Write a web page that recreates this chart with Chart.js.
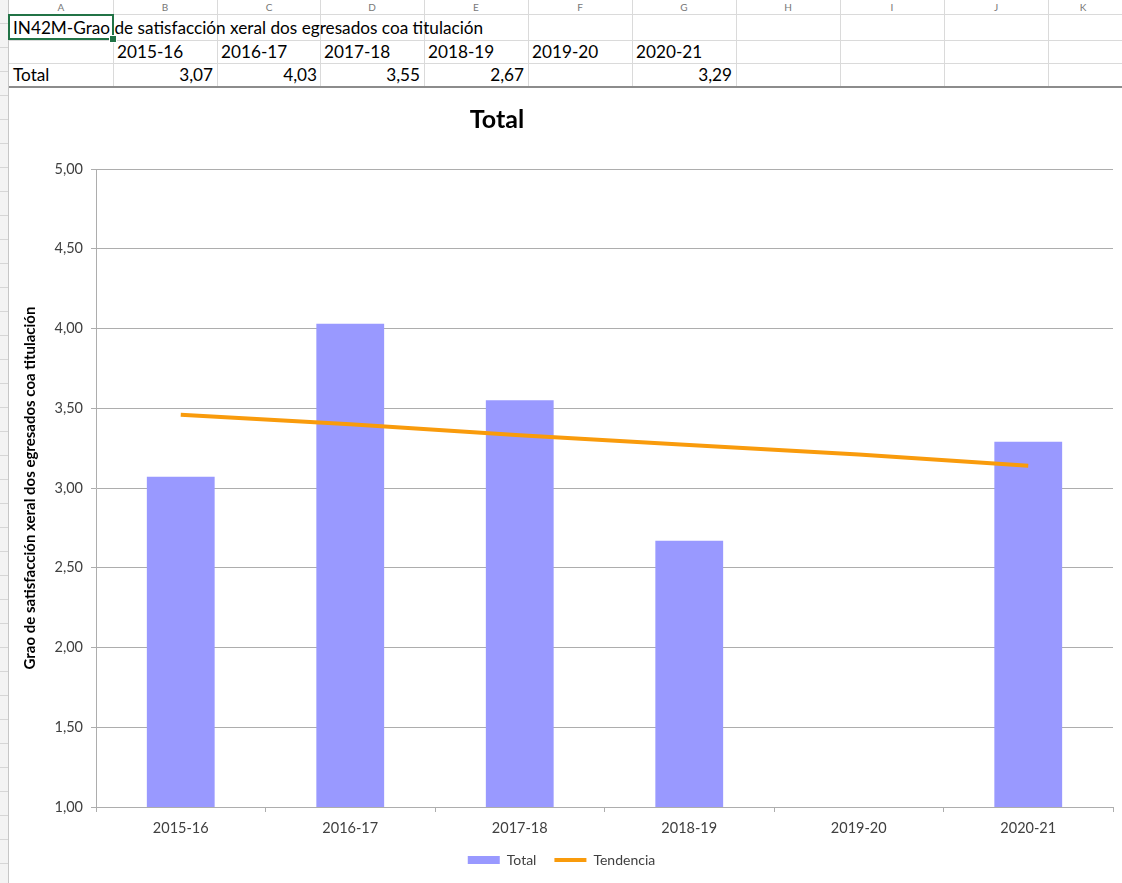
<!DOCTYPE html>
<html>
<head>
<meta charset="utf-8">
<script src="https://cdn.jsdelivr.net/npm/chart.js@4.4.1/dist/chart.umd.min.js"></script>
<style>
  html,body{margin:0;padding:0;background:#fff;}
  body{width:1122px;height:883px;position:relative;overflow:hidden;font-family:Lato,"Noto Sans",sans-serif;color:#000;}
  #rowhead{position:absolute;left:0;top:0;width:8px;height:883px;background:#f3f3f3;border-right:1px solid #c6c6c6;
    background-image:repeating-linear-gradient(to bottom, transparent 0 23px, #d6d6d6 23px 24px);}
  .vline{position:absolute;top:0;width:1px;height:87px;background:#dadada;}
  .hline{position:absolute;left:9px;right:0;height:1px;background:#dadada;}
  .colletter{position:absolute;top:1px;width:104px;text-align:center;font-size:10px;line-height:12px;color:#777;}
  .cell{position:absolute;font-size:17.2px;line-height:23px;white-space:nowrap;}
  #sel{position:absolute;left:8px;top:14px;width:102px;height:22px;border:2px solid #217346;}
  #sel:after{content:"";position:absolute;right:-5px;bottom:-5px;width:6px;height:6px;background:#217346;border:1px solid #fff;}
  #thick{position:absolute;left:9px;right:0;top:86px;height:2px;background:#8c8c8c;}
  #chartBox{position:absolute;left:10px;top:88px;width:1112px;height:795px;background:#fff;}
  #chartBox canvas{display:block;}
  #chartTitle{position:absolute;left:397px;top:103px;width:200px;text-align:center;font-size:25px;line-height:30px;font-weight:bold;color:#000;}
</style>
</head>
<body>
<div id="rowhead"></div>
<div id="sheet"></div>
<div id="chartBox"><canvas id="chart" width="1112" height="795"></canvas></div>
<div id="chartTitle"></div>
<script>
// data read from the sheet / chart
const indicator = 'IN42M-Grao de satisfacción xeral dos egresados coa titulación';
const chartTitle = 'Total';
const years = ['2015-16', '2016-17', '2017-18', '2018-19', '2019-20', '2020-21'];
const totals = [3.07, 4.03, 3.55, 2.67, null, 3.29];
const trend = [3.46, 3.40, 3.33, 3.27, 3.21, 3.14];
const yMin = 1, yMax = 5, yStep = 0.5;
const colLetters = ['A','B','C','D','E','F','G','H','I','J','K'];

const fmt = (v)=> (v === null || v === undefined) ? '' : Number(v).toFixed(2).replace('.', ',');

// spreadsheet strip above the chart
(function(){
  const sheet = document.getElementById('sheet');
  const colX = [9, 113, 217, 320, 424, 528, 632, 736, 840, 944, 1048];
  const add = (cls, style, text)=>{
    const d = document.createElement('div');
    d.className = cls;
    Object.assign(d.style, style);
    if(text !== undefined) d.textContent = text;
    sheet.appendChild(d);
    return d;
  };
  colX.forEach((x, i)=>{
    if(i > 0) add('vline', { left: x + 'px' });
    add('colletter', { left: x + 'px', width: i === colX.length - 1 ? '70px' : '104px' }, colLetters[i]);
  });
  [14, 40, 63].forEach(y=> add('hline', { top: y + 'px' }));
  add('cell', { left: '13px', top: '16px' }, indicator);
  years.forEach((y, i)=> add('cell', { left: (colX[i + 1] + 4) + 'px', top: '40px' }, y));
  add('cell', { left: '13px', top: '63px' }, 'Total');
  totals.forEach((v, i)=>{
    add('cell', { left: colX[i + 1] + 'px', top: '63px', width: '100px', textAlign: 'right' }, fmt(v));
  });
  add('', { }).id = 'thick';
  const sel = document.createElement('div'); sel.id = 'sel'; sheet.appendChild(sel);
  document.getElementById('chartTitle').textContent = chartTitle;
})();

// chart
(function(){
  const font = 'Lato, "Noto Sans", sans-serif';
  const gridColor = '#adadad';
  const txt = '#404040';

  new Chart(document.getElementById('chart'), {
    type: 'bar',
    data: {
      labels: years,
      datasets: [
        {
          label: 'Total',
          data: totals,
          backgroundColor: '#9999ff',
          borderWidth: 0,
          categoryPercentage: 1,
          barPercentage: 0.4,
          order: 2
        },
        {
          type: 'line',
          label: 'Tendencia',
          data: trend,
          borderColor: '#f99b0c',
          backgroundColor: '#f99b0c',
          borderWidth: 4,
          pointRadius: 0,
          tension: 0,
          fill: false,
          order: 1
        }
      ]
    },
    options: {
      responsive: false,
      animation: false,
      devicePixelRatio: 1,
      layout: { padding: { left: 0, right: 9, top: 81, bottom: 6 } },
      plugins: {
        tooltip: { enabled: false },
        title: { display: false },
        legend: {
          position: 'bottom',
          labels: {
            color: txt,
            font: { family: font, size: 14 },
            usePointStyle: true,
            pointStyleWidth: 32,
            boxHeight: 8,
            padding: 18,
            generateLabels: (chart)=> chart.data.datasets.map((ds, i)=>({
              text: ds.label,
              fillStyle: ds.backgroundColor,
              strokeStyle: ds.borderColor || ds.backgroundColor,
              lineWidth: i === 0 ? 0 : 4,
              pointStyle: i === 0 ? 'rect' : 'line',
              fontColor: txt,
              hidden: false,
              datasetIndex: i
            }))
          }
        }
      },
      scales: {
        x: {
          offset: true,
          grid: { display: true, drawOnChartArea: false, drawTicks: true, tickLength: 5, color: gridColor, offset: true },
          border: { color: gridColor },
          ticks: { color: txt, font: { family: font, size: 14.5 }, padding: 8, maxRotation: 0, autoSkip: false },
          afterFit: (s)=>{ s.height = 28; }
        },
        y: {
          min: yMin,
          max: yMax,
          grid: { color: gridColor, tickLength: 5 },
          border: { color: gridColor },
          ticks: {
            stepSize: yStep,
            color: txt,
            font: { family: font, size: 14.5 },
            padding: 8,
            callback: (v)=> fmt(v)
          },
          title: {
            display: true,
            text: 'Grao de satisfacción xeral dos egresados coa titulación',
            color: '#000',
            font: { family: font, size: 15, weight: 'bold' },
            padding: { top: 11, bottom: 0 }
          },
          afterFit: (s)=>{ s.width = 86; }
        }
      }
    }
  });
})();
</script>
</body>
</html>
